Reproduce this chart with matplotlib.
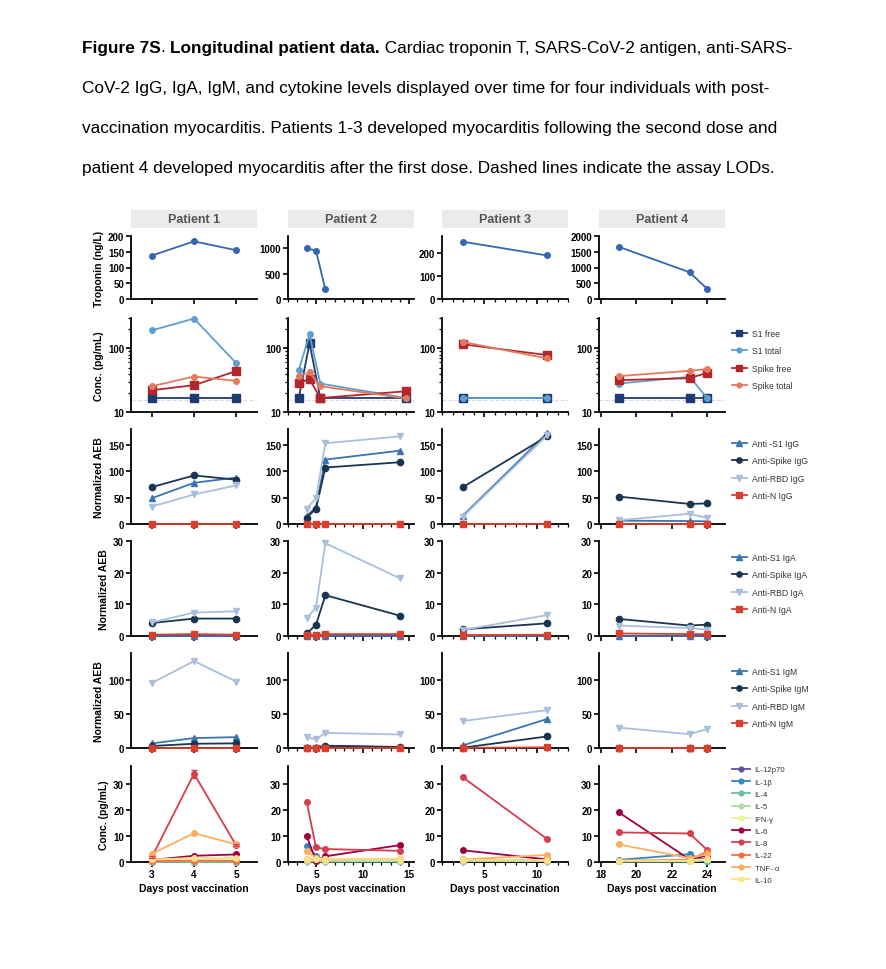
import matplotlib
matplotlib.use("Agg")
import matplotlib.pyplot as plt

plt.rcParams['font.family'] = ['Liberation Sans', 'DejaVu Sans']

W, H = 886, 970

PATIENTS = ["Patient 1", "Patient 2", "Patient 3", "Patient 4"]
DAYS = [[3, 4, 5], [4, 5, 6, 14], [3, 11], [19, 23, 24]]

# troponin (ng/L); patient 2 only measured on days 4-6
TROPONIN = [[138, 183, 155], [1000, 950, 190], [250, 190], [1660, 850, 320]]

# antigen (pg/mL)
S1_FREE = [[16.6, 16.6, 16.6], [16.6, 120, 16.6, 16.6], [16.6, 16.6], [16.6, 16.6, 16.6]]
S1_TOTAL = [[192, 294, 59], [45.5, 166, 28, 16.6], [16.6, 16.6], [28, 35.7, 16.6]]
SPIKE_FREE = [[22, 26.4, 43.9], [28.7, 32.8, 16.6, 21.2], [115.7, 78.5], [31.6, 34, 41.3]]
SPIKE_TOTAL = [[25.4, 36.1, 30.8], [37, 41.8, 25.4, 16.3], [126, 69.5], [36.6, 44.4, 47.2]]

# IgG
IGG_S1 = [[49, 78, 88], [15, 32, 122, 139], [16, 172], [6.3, 5.6, 5]]
IGG_SPIKE = [[70, 92, 84], [12, 29, 107, 117], [70, 166], [52, 38, 39]]
IGG_RBD = [[33, 56, 73], [29, 49, 153, 166], [14, 168], [7, 19.5, 11]]
IGG_N = [[0.5, 0.5, 0.5], [0.5, 0.5, 0.5, 0.5], [0.5, 0.5], [0.5, 0.5, 0.5]]

# IgA
IGA_S1 = [[0.1, 0.1, 0.1], [0.1, 0.1, 0.1, 0.1], [0.1, 0.1], [0.1, 0.1, 0.1]]
IGA_SPIKE = [[4.1, 5.5, 5.5], [0.8, 3.5, 12.9, 6.4], [2.1, 4.0], [5.4, 3.3, 3.6]]
IGA_RBD = [[4.3, 7.4, 7.8], [5.6, 9.0, 29.3, 18.2], [1.9, 6.6], [3.3, 2.5, 2.0]]
IGA_N = [[0.4, 0.6, 0.4], [0.3, 0.3, 0.6, 0.6], [0.3, 0.4], [0.8, 0.6, 0.6]]

# IgM
IGM_S1 = [[6.8, 14.6, 16], [1, 1, 3, 1], [3.9, 42.7], [0.5, 0.5, 0.5]]
IGM_SPIKE = [[2.9, 6.3, 6.8], [0.2, 0.5, 3.4, 1.5], [0.5, 17], [0.5, 0.5, 0.5]]
IGM_RBD = [[96, 128, 98], [16, 12.6, 22.3, 19.9], [39.8, 55.8], [30, 20.4, 28.2]]
IGM_N = [[0.3, 0.3, 0.3], [0.2, 0.2, 0.2, 0.2], [0.2, 1], [0.2, 0.2, 0.2]]

# cytokines (pg/mL)
IL12P70 = [[0.1, 0.1, 0.1], [0.2, 0.2, 0.2, 0.2], [0.3, 0.3], [0.3, 0.3, 1.5]]
IL1B = [[0.3, 0.3, 0.3], [6.3, 2.5, 0.2, 0.2], [0.5, 0.5], [0.8, 3.0, 0.2]]
IL4 = [[0.1, 0.1, 0.1], [0.3, 0.2, 0.2, 0.2], [0.2, 0.2], [0.2, 0.2, 0.5]]
IL5 = [[0.2, 0.2, 0.2], [0.5, 0.4, 0.4, 0.4], [0.3, 0.3], [0.3, 0.3, 1.0]]
IFNG = [[0.5, 1.0, 1.2], [1.0, 0.8, 0.8, 0.8], [0.8, 0.6], [0.5, 0.5, 1.0]]
IL6 = [[0.8, 2.4, 2.9], [10.0, 0.5, 2.2, 6.5], [4.5, 1.0], [19.2, 1.0, 2.5]]
IL8 = [[2.0, 34.0, 6.5], [23.2, 5.6, 5.0, 4.3], [32.6, 8.9], [11.4, 11.0, 4.6]]
IL22 = [[0.3, 0.5, 0.4], [1.3, 1.0, 1.0, 1.2], [0.8, 0.8], [0.5, 0.8, 4.0]]
TNFA = [[3.2, 11.1, 6.8], [4.1, 1.7, 1.2, 1.2], [1.0, 2.7], [6.8, 1.5, 3.0]]
IL10 = [[1.0, 1.5, 1.5], [1.3, 1.2, 1.2, 1.3], [0.6, 0.6], [0.5, 0.5, 1.0]]
IL8_P1_ERR = [0.3, 1.5, 0.4]

CAPTION = [
    [("Figure 7S", "bold"), (". ", "normal"), ("Longitudinal patient data.", "bold"),
     (" Cardiac troponin T, SARS-CoV-2 antigen, anti-SARS-", "normal")],
    [("CoV-2 IgG, IgA, IgM, and cytokine levels displayed over time for four individuals with post-", "normal")],
    [("vaccination myocarditis. Patients 1-3 developed myocarditis following the second dose and", "normal")],
    [("patient 4 developed myocarditis after the first dose. Dashed lines indicate the assay LODs.", "normal")],
]

# series: label, data, color, marker, markersize
ROW_SERIES = [
    [("Troponin", TROPONIN, "#3566b0", "o", 4)],
    [("S1 free", S1_FREE, "#1f3b73", "s", 5.5),
     ("S1 total", S1_TOTAL, "#5e9fd2", "o", 4),
     ("Spike free", SPIKE_FREE, "#b3262b", "s", 5.5),
     ("Spike total", SPIKE_TOTAL, "#e27a60", "o", 4)],
    [("Anti -S1 IgG", IGG_S1, "#3a75b0", "^", 4.5),
     ("Anti-Spike IgG", IGG_SPIKE, "#1a3550", "o", 4.5),
     ("Anti-RBD IgG", IGG_RBD, "#a9bfdc", "v", 4.5),
     ("Anti-N IgG", IGG_N, "#d7402e", "s", 4.5)],
    [("Anti-S1 IgA", IGA_S1, "#3a75b0", "^", 4.5),
     ("Anti-Spike IgA", IGA_SPIKE, "#1a3550", "o", 4.5),
     ("Anti-RBD IgA", IGA_RBD, "#a9bfdc", "v", 4.5),
     ("Anti-N IgA", IGA_N, "#d7402e", "s", 4.5)],
    [("Anti-S1 IgM", IGM_S1, "#3a75b0", "^", 4.5),
     ("Anti-Spike IgM", IGM_SPIKE, "#1a3550", "o", 4.5),
     ("Anti-RBD IgM", IGM_RBD, "#a9bfdc", "v", 4.5),
     ("Anti-N IgM", IGM_N, "#d7402e", "s", 4.5)],
    [("IL-12p70", IL12P70, "#5e4fa2", "o", 4),
     ("IL-1β", IL1B, "#3288bd", "o", 4),
     ("IL-4", IL4, "#66c2a5", "o", 4),
     ("IL-5", IL5, "#abdda4", "o", 4),
     ("IFN-γ", IFNG, "#e6f598", "o", 4),
     ("IL-6", IL6, "#9e0142", "o", 4),
     ("IL-8", IL8, "#d53e4f", "o", 4),
     ("IL-22", IL22, "#f46d43", "o", 4),
     ("TNF- α", TNFA, "#fdae61", "o", 4),
     ("IL-10", IL10, "#fee08b", "o", 4)],
]

YLABELS = ["Troponin (ng/L)", "Conc. (pg/mL)", "Normalized AEB", "Normalized AEB",
           "Normalized AEB", "Conc. (pg/mL)"]

# layout in pixels
COL_LEFT = [131, 288, 442, 599]
COL_W = 126
ROW_TB = [(237, 300), (319, 413), (430, 525), (542, 637), (654, 749), (767, 863)]
LEG_TOP = [None, 330, 440, 554, 668, 767]

XLIM = [(2.5, 5.5), (2, 15.5), (1, 13), (17.9, 25)]
XMAJOR = [[3, 4, 5], [5, 10, 15], [5, 10], [18, 20, 22, 24]]
XMINOR = [[], list(range(2, 16)), list(range(1, 14)), []]

TROP_YLIM = [200, 1240, 275, 2000]
TROP_YTICKS = [[0, 50, 100, 150, 200], [0, 500, 1000], [0, 100, 200],
               [0, 500, 1000, 1500, 2000]]
ROW_YLIM = [None, (10, 300), (0, 180), (0, 30), (0, 140), (0, 37)]
ROW_YTICKS = [None, [10, 100], [0, 50, 100, 150], [0, 10, 20, 30], [0, 50, 100], [0, 10, 20, 30]]

fig = plt.figure(figsize=(W / 100, H / 100), dpi=100)
fig.patch.set_facecolor("white")


def fx(px):
    return px / W


def fy(px):
    return 1 - px / H


# caption
renderer = fig.canvas.get_renderer()
for line, ycen in zip(CAPTION, [48, 88, 129, 168]):
    x = fx(82)
    for txt, wt in line:
        t = fig.text(x, fy(ycen), txt, fontsize=12.4, fontweight=wt, va="center", ha="left")
        bb = t.get_window_extent(renderer)
        x = bb.x1 / W

# patient headers
for c, name in enumerate(PATIENTS):
    hax = fig.add_axes([fx(COL_LEFT[c]), fy(229), COL_W / W, 18 / H])
    hax.set_facecolor("#ebebeb")
    for s in hax.spines.values():
        s.set_visible(False)
    hax.set_xticks([])
    hax.set_yticks([])
    hax.text(0.5, 0.5, name, ha="center", va="center", fontsize=9, fontweight="bold",
             color="#555555", transform=hax.transAxes)

for r, series in enumerate(ROW_SERIES):
    top, bot = ROW_TB[r]
    for c in range(4):
        ax = fig.add_axes([fx(COL_LEFT[c]), fy(bot), COL_W / W, (bot - top) / H])
        for lab, data, color, mk, ms in series:
            xs = DAYS[c][:len(data[c])]
            ax.plot(xs, data[c], color=color, marker=mk, markersize=ms, lw=1.3,
                    label=lab, clip_on=False, zorder=3)
        if r == 5 and c == 0:
            ax.errorbar(DAYS[0], IL8[0], yerr=IL8_P1_ERR, fmt="none", ecolor="#d53e4f",
                        elinewidth=1, capsize=2, zorder=3)
        for s in ["top", "right"]:
            ax.spines[s].set_visible(False)
        for s in ["left", "bottom"]:
            ax.spines[s].set_linewidth(1.3)
        # x axis
        if r == 1 and c == 1:
            ax.set_xlim(3, 14.7)
            ax.set_xticks([5, 10])
            ax.set_xticks(list(range(3, 15)), minor=True)
        else:
            ax.set_xlim(*XLIM[c])
            ax.set_xticks(XMAJOR[c])
            ax.set_xticks(XMINOR[c], minor=True)
        if r == 5:
            ax.set_xticklabels([str(v) for v in XMAJOR[c]], fontsize=7.2, fontweight="bold")
            ax.set_xlabel("Days post vaccination", fontsize=7.5, fontweight="bold", labelpad=3)
        else:
            ax.set_xticklabels([])
        # y axis
        if r == 0:
            ax.set_ylim(0, TROP_YLIM[c])
            ax.set_yticks(TROP_YTICKS[c])
        elif r == 1:
            ax.set_yscale("log")
            ax.set_ylim(*ROW_YLIM[r])
            ax.set_yticks(ROW_YTICKS[r])
            ax.set_yticks([20, 30, 40, 50, 60, 70, 80, 90, 200, 300], minor=True)
            ax.set_yticklabels(["10", "100"])
            ax.set_yticklabels([], minor=True)
            ax.axhline(15.5, color="#dddddd", lw=0.8, ls="--", zorder=1)
        else:
            ax.set_ylim(*ROW_YLIM[r])
            ax.set_yticks(ROW_YTICKS[r])
        for lbl in ax.get_yticklabels():
            lbl.set_fontsize(7)
            lbl.set_fontweight("bold")
        ax.tick_params(which="major", length=3.5, width=1.2, pad=1.5)
        ax.tick_params(which="minor", length=2.2, width=0.9)
        if c == 0:
            ax.set_ylabel(YLABELS[r], fontsize=7.5, fontweight="bold", labelpad=3)
        if c == 3 and r > 0:
            small = r == 5
            fs = 5.6 if small else 6.2
            ax.legend(loc="upper left", bbox_to_anchor=(fx(732), fy(LEG_TOP[r])),
                      bbox_transform=fig.transFigure, frameon=False, fontsize=fs,
                      handlelength=2.3 if small else 1.7, handletextpad=0.6,
                      labelspacing=0.62 if small else 0.98, borderpad=0,
                      borderaxespad=0, markerscale=0.85, labelcolor="#333333")

fig.savefig("out.png", dpi=100, facecolor="white")
